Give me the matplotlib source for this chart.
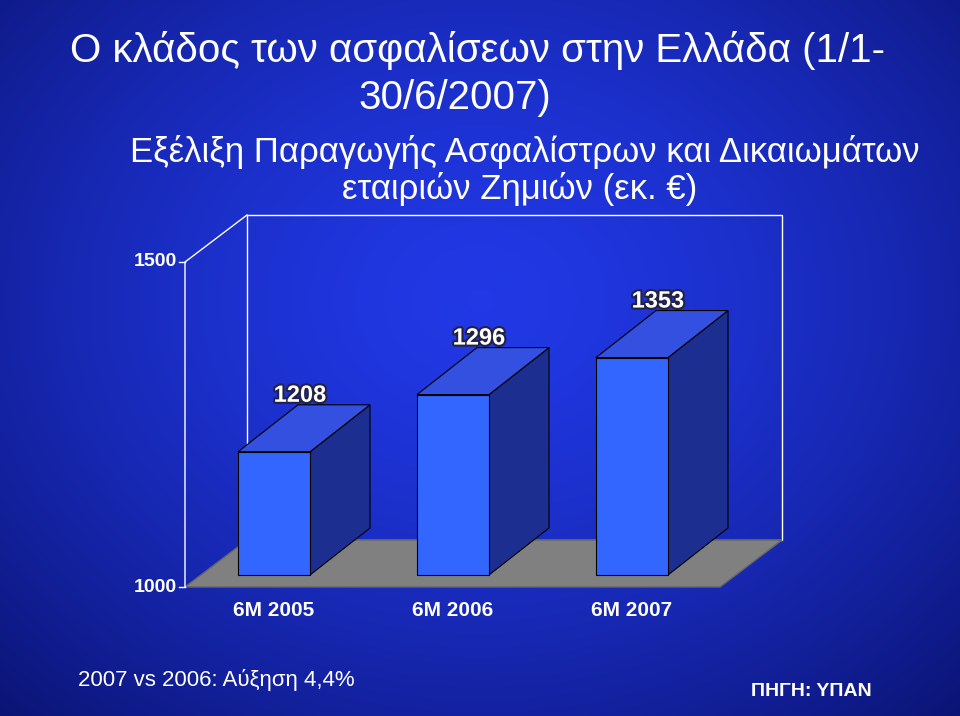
import numpy as np
from matplotlib import pyplot as plt
from matplotlib.patches import Polygon
import matplotlib.patheffects as pe

categories = ["6M 2005", "6M 2006", "6M 2007"]
values = [1208, 1296, 1353]
y_ticks = [1000, 1500]

NARROW = ["Liberation Sans Narrow", "Liberation Sans"]

W, H = 960, 716
fig = plt.figure(figsize=(W / 100, H / 100), dpi=100)
ax = fig.add_axes([0, 0, 1, 1])
ax.set_xlim(0, W)
ax.set_ylim(H, 0)
ax.axis("off")

# radial gradient background
yy, xx = np.mgrid[0:H, 0:W]
r = np.sqrt(((xx - 480) / 760) ** 2 + ((yy - 300) / 620) ** 2)
r = np.clip(r, 0, 1) ** 1.5
c0 = np.array([0.13, 0.22, 0.90])
c1 = np.array([0.03, 0.06, 0.40])
img = c0 * (1 - r[..., None]) + c1 * r[..., None]
ax.imshow(img, extent=(0, W, H, 0), zorder=0)

# chart geometry (pixels)
x0, x1 = 185, 720
y_lo, y_hi = 587, 262
dx, dy = 62, -47


def to_y(v):
    return y_lo - (v - y_ticks[0]) * (y_lo - y_hi) / (y_ticks[1] - y_ticks[0])


# back wall + floor
ax.add_patch(Polygon([(x0 + dx, y_lo + dy), (x0 + dx, y_hi + dy), (x1 + dx, y_hi + dy),
                      (x1 + dx, y_lo + dy)], closed=True, fill=False, ec="white", lw=1, zorder=1))
ax.add_patch(Polygon([(x0, y_lo), (x1, y_lo), (x1 + dx, y_lo + dy), (x0 + dx, y_lo + dy)],
                     closed=True, fc="#808080", ec="#666666", lw=1, zorder=2))
ax.plot([x0, x0, x0 + dx], [y_lo, y_hi, y_hi + dy], color="white", lw=1, zorder=2)
for t in y_ticks:
    ax.plot([x0 - 6, x0], [to_y(t)] * 2, color="white", lw=1, zorder=2)
    ax.text(x0 - 8, to_y(t), str(t), color="white", fontsize=14, fontweight="bold",
            ha="right", va="center", family=NARROW)

# bars
bw = 72
bdx, bdy = 60, -47
base = 575
shadow = [pe.withStroke(linewidth=3, foreground="#222244")]
for i, (cat, v) in enumerate(zip(categories, values)):
    bx = 238 + i * 179
    top = to_y(v)
    ax.add_patch(Polygon([(bx + bw, base), (bx + bw + bdx, base + bdy), (bx + bw + bdx, top + bdy),
                          (bx + bw, top)], fc="#1c2f90", ec="black", lw=0.8, zorder=3))
    ax.add_patch(Polygon([(bx, top), (bx + bw, top), (bx + bw + bdx, top + bdy), (bx + bdx, top + bdy)],
                         fc="#3350e0", ec="black", lw=0.8, zorder=3))
    ax.add_patch(Polygon([(bx, base), (bx + bw, base), (bx + bw, top), (bx, top)],
                         fc="#3366ff", ec="black", lw=0.8, zorder=4))
    ax.text(bx + bw / 2 + bdx / 2 - 4, top + bdy + 2, str(v), color="white", fontsize=17,
            fontweight="bold", ha="center", va="bottom", family=NARROW, zorder=5,
            path_effects=shadow)
    ax.text(bx + bw / 2, 610, cat, color="white", fontsize=15, fontweight="bold",
            ha="center", va="center", family=NARROW)

ax.text(478, 50, "Ο κλάδος των ασφαλίσεων στην Ελλάδα (1/1-", color="white", fontsize=29,
        ha="center", va="center", family=NARROW)
ax.text(455, 98, "30/6/2007)", color="white", fontsize=29, ha="center", va="center",
        family=NARROW)
ax.text(525, 152, "Εξέλιξη Παραγωγής Ασφαλίστρων και Δικαιωμάτων", color="white", fontsize=25,
        ha="center", va="center", family=NARROW)
ax.text(520, 189, "εταιριών Ζημιών (εκ. €)", color="white", fontsize=25, ha="center",
        va="center", family=NARROW)
ax.text(78, 680, "2007 vs 2006: Αύξηση 4,4%", color="white", fontsize=16, ha="left",
        va="center", family="Liberation Sans")
ax.text(872, 692, "ΠΗΓΗ: ΥΠΑΝ", color="white", fontsize=14, fontweight="bold", ha="right",
        va="center", family="Liberation Sans")

fig.savefig("out.png", dpi=100)
